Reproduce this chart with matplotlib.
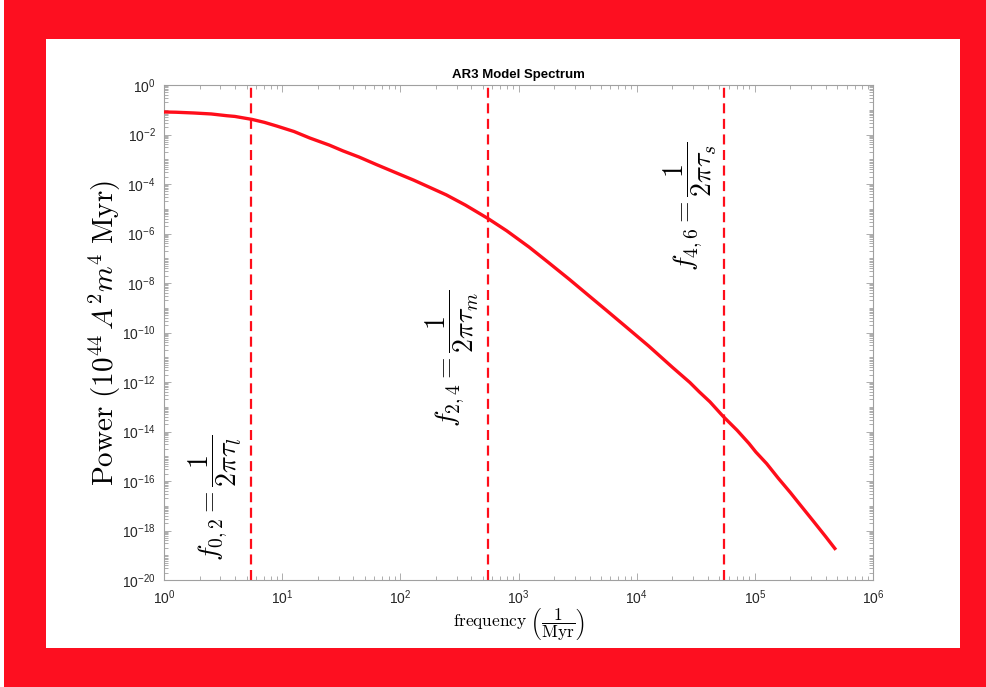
import matplotlib
matplotlib.use("Agg")
import matplotlib.pyplot as plt
import numpy as np
from matplotlib.patches import Rectangle
from matplotlib.ticker import LogLocator, NullFormatter

# spectrum (1/Myr, 10^44 A^2 m^4 Myr)
freq = [1, 1.26, 1.78, 2.51, 3.39, 3.98, 5.56, 7.08, 9.02, 12.6, 17.1, 25.1,
        32.6, 44.7, 63.1, 100, 129, 178, 245, 355, 550, 794, 1230, 1780, 2690,
        3980, 5500, 7940, 12600, 20000, 28200, 33900, 41700, 53700, 70800,
        89100, 102000, 126000, 158000, 200000, 238000, 316000, 398000, 485000]
power = [8.13e-2, 7.94e-2, 7.41e-2, 6.76e-2, 5.75e-2, 5.37e-2, 4.07e-2,
         3.09e-2, 2.19e-2, 1.32e-2, 7.24e-3, 3.72e-3, 2.19e-3, 1.23e-3,
         6.03e-4, 2.40e-4, 1.45e-4, 7.24e-5, 3.63e-5, 1.41e-5, 4.07e-6,
         1.29e-6, 2.82e-7, 6.92e-8, 1.41e-8, 2.95e-9, 8.13e-10, 1.86e-10,
         2.88e-11, 3.98e-12, 9.55e-13, 3.98e-13, 1.58e-13, 4.17e-14, 1.12e-14,
         3.31e-15, 1.48e-15, 5.01e-16, 1.29e-16, 3.39e-17, 1.20e-17, 2.24e-18,
         5.62e-19, 1.66e-19]

# corner frequencies of the AR3 model
corner_freq = [5.5, 550, 55000]
corner_labels = [r"$f_{0,2} = \dfrac{1}{2\pi\tau_l}$",
                 r"$f_{2,4} = \dfrac{1}{2\pi\tau_m}$",
                 r"$f_{4,6} = \dfrac{1}{2\pi\tau_s}$"]
corner_label_pos = [(215, 498), (452, 358), (690, 206)]  # pixel centres

RED = "#fd0f20"
LINE = "#ff0d1a"

plt.rcParams["font.family"] = ["Liberation Sans", "DejaVu Sans"]
plt.rcParams["mathtext.fontset"] = "custom"
plt.rcParams["mathtext.rm"] = "Liberation Sans"
plt.rcParams["mathtext.it"] = "Liberation Sans:italic"
plt.rcParams["mathtext.bf"] = "Liberation Sans:bold"

W, H = 987, 687
fig = plt.figure(figsize=(W / 100, H / 100), dpi=100)
fig.patch.set_facecolor(RED)

# white page inside the red frame
fig.add_artist(Rectangle((46 / W, 1 - 648 / H), (960 - 46) / W, (648 - 39) / H,
                         transform=fig.transFigure, facecolor="white",
                         edgecolor="none", zorder=0))
fig.add_artist(Rectangle((0, 0), 4 / W, 1, transform=fig.transFigure,
                         facecolor="white", edgecolor="none", zorder=0))

ax = fig.add_axes([164 / W, 1 - 580 / H, (873 - 164) / W, (580 - 85) / H])
ax.set_xscale("log")
ax.set_yscale("log")
ax.set_xlim(1, 1e6)
ax.set_ylim(1e-20, 1)

ax.plot(freq, power, color=LINE, linewidth=2.4, solid_capstyle="butt",
        solid_joinstyle="round", zorder=3)
for fc in corner_freq:
    ax.axvline(fc, color=LINE, linewidth=1.6, linestyle=(0, (4.5, 2.5)), zorder=2)

ax.set_xticks([10.0 ** k for k in range(0, 7)])
ax.set_yticks([10.0 ** k for k in range(-20, 1, 2)])
ax.xaxis.set_minor_locator(LogLocator(base=10, subs=np.arange(2, 10), numticks=100))
ax.yaxis.set_minor_locator(LogLocator(base=10, subs=np.arange(1, 10), numticks=100))
ax.xaxis.set_minor_formatter(NullFormatter())
ax.yaxis.set_minor_formatter(NullFormatter())

for sp in ax.spines.values():
    sp.set_color("#a0a0a0")
    sp.set_linewidth(0.8)
ax.tick_params(which="both", direction="in", top=True, right=True,
               color="#a0a0a0", width=0.6)
ax.tick_params(which="major", length=5, labelsize=10, labelcolor="#262626", pad=6)
ax.tick_params(which="minor", length=3)

ax.set_title("AR3 Model Spectrum", fontsize=9.5, fontweight="bold", pad=5)
ax.set_xlabel(r"$\mathrm{frequency}\ \left(\dfrac{1}{\mathrm{Myr}}\right)$",
              fontsize=12.5, math_fontfamily="cm", labelpad=0)
ax.set_ylabel(r"$\mathrm{Power}\ (10^{44}\,A^2m^4\ \mathrm{Myr})$",
              fontsize=21, math_fontfamily="cm", labelpad=-1)

for label, (px, py) in zip(corner_labels, corner_label_pos):
    fig.text(px / W, 1 - py / H, label, rotation=90, ha="center", va="center",
             fontsize=20, math_fontfamily="cm")

fig.savefig("out.png", dpi=100, facecolor=fig.get_facecolor())
